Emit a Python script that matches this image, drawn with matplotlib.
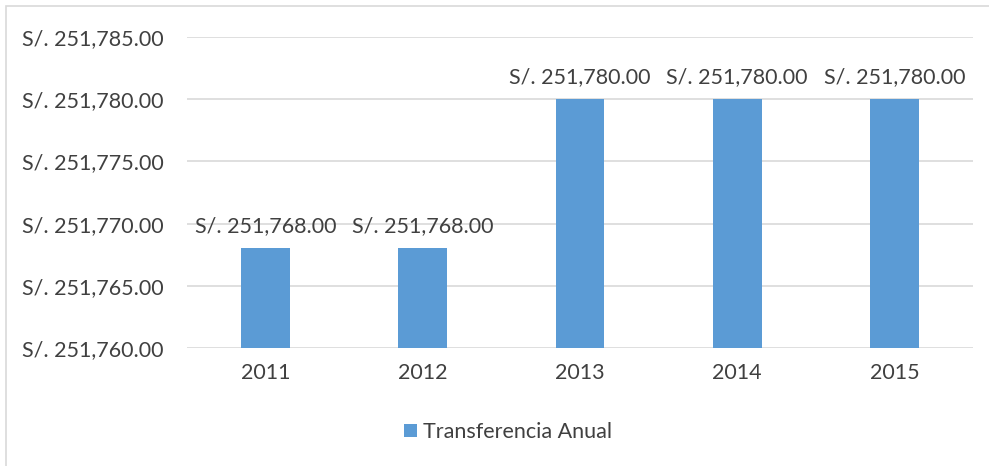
import matplotlib.pyplot as plt
from matplotlib.patches import Rectangle

years = ['2011', '2012', '2013', '2014', '2015']
transferencia = [251768.00, 251768.00, 251780.00, 251780.00, 251780.00]
yticks = [251760, 251765, 251770, 251775, 251780, 251785]

plt.rcParams['font.family'] = ['Lato', 'DejaVu Sans']
TXT = '#404040'
BLUE = '#5b9bd5'

fig = plt.figure(figsize=(9.89, 4.66), dpi=100)
ax = fig.add_axes([187 / 989, 1 - 348 / 466, 786 / 989, 311 / 466])

x = range(len(years))
bars = ax.bar(x, [v - yticks[0] for v in transferencia], bottom=yticks[0],
              width=0.31, color=BLUE, label='Transferencia Anual', zorder=3)

for xi, v in zip(x, transferencia):
    ax.annotate('S/. {:,.2f}'.format(v), (xi, v), xytext=(0, 9),
                textcoords='offset points', ha='center', va='bottom',
                fontsize=15.5, color=TXT)

ax.set_xlim(-0.5, len(years) - 0.5)
ax.set_ylim(yticks[0], yticks[-1])
ax.set_yticks(yticks)
ax.set_yticklabels(['S/. {:,.2f}'.format(t) for t in yticks])
ax.set_xticks(list(x))
ax.set_xticklabels(years)
ax.tick_params(axis='both', length=0, labelsize=15.5, labelcolor=TXT)
ax.tick_params(axis='y', pad=17)
ax.tick_params(axis='x', pad=11)
ax.grid(axis='y', color='#d9d9d9', linewidth=1.2, zorder=0)
for s in ax.spines.values():
    s.set_visible(False)

leg = fig.legend(handles=[bars], loc='center', bbox_to_anchor=(508 / 989, 1 - 432 / 466),
                 frameon=False, fontsize=15.5, handlelength=0.6, handleheight=0.6,
                 handletextpad=0.3)
for t in leg.get_texts():
    t.set_color(TXT)

# outer chart border (only left/top visible in the crop)
fig.patches.append(Rectangle((6 / 989, -0.1), 1.2, 1.1 - 6 / 466,
                             transform=fig.transFigure, fill=False,
                             edgecolor='#d9d9d9', linewidth=1.2))

fig.savefig('out.png', dpi=100)
